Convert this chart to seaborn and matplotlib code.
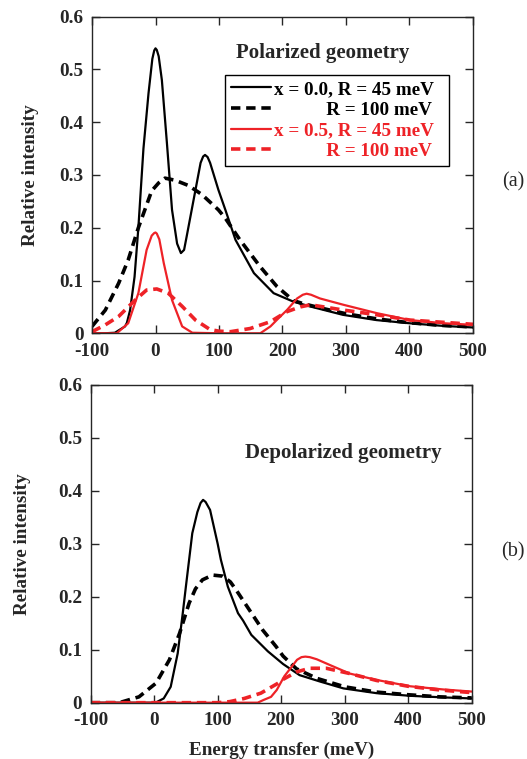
import matplotlib
matplotlib.use("Agg")
import matplotlib.pyplot as plt
import seaborn as sns

# (a) polarized geometry
pol_45_E = [-100, -80, -64, -48, -45, -40, -33, -27, -19, -11, -5, -2, 0, 2, 5, 10, 18, 26, 34, 40, 45, 49, 60, 71, 75, 78, 82, 86, 99, 110, 126, 155, 186, 217, 243, 295, 348, 400, 453, 500]
pol_45_I = [0, 0, 0.001, 0.013, 0.02, 0.044, 0.107, 0.2, 0.35, 0.455, 0.52, 0.536, 0.54, 0.537, 0.525, 0.48, 0.36, 0.234, 0.17, 0.152, 0.158, 0.183, 0.253, 0.323, 0.335, 0.338, 0.334, 0.323, 0.272, 0.234, 0.177, 0.114, 0.076, 0.06, 0.051, 0.035, 0.025, 0.019, 0.014, 0.011]
pol_100_E = [-100, -79, -58, -43, -27, -15, -6, 5, 15, 31, 52, 73, 99, 110, 133, 165, 191, 217, 233, 260, 300, 350, 400, 450, 500]
pol_100_I = [0.013, 0.044, 0.095, 0.139, 0.2, 0.24, 0.27, 0.285, 0.294, 0.29, 0.28, 0.263, 0.234, 0.218, 0.177, 0.126, 0.089, 0.062, 0.056, 0.048, 0.037, 0.027, 0.02, 0.015, 0.012]
pol05_45_E = [-100, -61, -43, -27, -14, -6, -2, 0, 2, 6, 13, 26, 42, 58, 100, 165, 181, 195, 207, 223, 232, 238, 245, 259, 296, 349, 401, 454, 500]
pol05_45_I = [0, 0, 0.019, 0.076, 0.158, 0.185, 0.19, 0.191, 0.189, 0.178, 0.133, 0.063, 0.013, 0.001, 0, 0, 0.013, 0.03, 0.044, 0.066, 0.073, 0.075, 0.073, 0.066, 0.054, 0.038, 0.025, 0.019, 0.016]
pol05_100_E = [-100, -79, -58, -32, -14, 2, 20, 42, 63, 86, 100, 118, 149, 181, 207, 228, 244, 296, 349, 401, 500]
pol05_100_I = [0.003, 0.016, 0.032, 0.063, 0.082, 0.084, 0.076, 0.051, 0.025, 0.007, 0.004, 0.003, 0.009, 0.022, 0.041, 0.05, 0.054, 0.044, 0.035, 0.025, 0.017]

# (b) depolarized geometry
dep_45_E = [-100, 2, 15, 26, 37, 45, 50, 55, 60, 68, 73, 77, 81, 88, 100, 105, 116, 132, 140, 153, 179, 203, 229, 261, 298, 350, 403, 455, 500]
dep_45_I = [0, 0, 0.008, 0.03, 0.093, 0.169, 0.22, 0.27, 0.32, 0.36, 0.377, 0.383, 0.379, 0.364, 0.30, 0.27, 0.219, 0.169, 0.155, 0.128, 0.097, 0.073, 0.052, 0.04, 0.027, 0.018, 0.013, 0.01, 0.008]
dep_100_E = [-100, -55, -24, 3, 24, 40, 55, 65, 76, 92, 108, 120, 129, 150, 171, 192, 203, 224, 256, 300, 350, 400, 450, 500]
dep_100_I = [0, 0, 0.011, 0.037, 0.081, 0.131, 0.188, 0.215, 0.232, 0.241, 0.239, 0.228, 0.213, 0.175, 0.137, 0.106, 0.088, 0.064, 0.046, 0.03, 0.02, 0.015, 0.011, 0.009]
dep05_45_E = [-100, 163, 172, 184, 193, 205, 225, 232, 238, 245, 256, 277, 308, 350, 403, 455, 500]
dep05_45_I = [0, 0, 0.005, 0.011, 0.024, 0.05, 0.081, 0.086, 0.087, 0.086, 0.082, 0.071, 0.055, 0.043, 0.031, 0.025, 0.021]
dep05_100_E = [-100, 100, 119, 142, 168, 194, 203, 224, 245, 271, 308, 350, 400, 450, 500]
dep05_100_I = [0, 0, 0.002, 0.008, 0.018, 0.036, 0.044, 0.058, 0.065, 0.065, 0.055, 0.042, 0.031, 0.024, 0.019]

labels = ["x = 0.0, R = 45 meV  ", "           R = 100 meV  ",
          "x = 0.5, R = 45 meV  ", "           R = 100 meV  "]
x_ticks = [-100, 0, 100, 200, 300, 400, 500]
y_ticks = [0, 0.1, 0.2, 0.3, 0.4, 0.5, 0.6]
y_ticklabels = ["0", "0.1", "0.2", "0.3", "0.4", "0.5", "0.6"]

sns.set_style("ticks")
plt.rcParams["font.family"] = ["Liberation Serif", "DejaVu Serif"]
plt.rcParams["font.weight"] = "bold"
plt.rcParams["axes.unicode_minus"] = False

RED = "#ee2227"
dash = (0, (2.6, 1.6))

fig = plt.figure(figsize=(5.27, 7.59), dpi=100)
ax1 = fig.add_axes([0.1746, 0.5609, 0.7229, 0.4171])
ax2 = fig.add_axes([0.1721, 0.0742, 0.7229, 0.4186])

def draw(ax, s45, s100, r45, r100):
    sns.lineplot(x=s45[0], y=s45[1], ax=ax, color="black", lw=1.6, sort=False, label=labels[0])
    sns.lineplot(x=s100[0], y=s100[1], ax=ax, color="black", lw=2.6, ls=dash, sort=False, label=labels[1])
    sns.lineplot(x=r45[0], y=r45[1], ax=ax, color=RED, lw=1.6, sort=False, label=labels[2])
    sns.lineplot(x=r100[0], y=r100[1], ax=ax, color=RED, lw=2.6, ls=dash, sort=False, label=labels[3])
    ax.set_xlim(-100, 500)
    ax.set_ylim(0, 0.6)
    ax.set_xticks(x_ticks)
    ax.set_yticks(y_ticks)
    ax.set_yticklabels(y_ticklabels)
    ax.tick_params(direction="in", top=True, right=True, length=6, width=1,
                   labelsize=13.8, pad=6)
    ax.tick_params(axis="x", pad=7)
    for lab in ax.get_xticklabels() + ax.get_yticklabels():
        lab.set_fontweight("bold")
    for sp in ax.spines.values():
        sp.set_linewidth(1)
        sp.set_visible(True)
    ax.set_ylabel("Relative intensity", fontsize=13.8, fontweight="bold")

draw(ax1, (pol_45_E, pol_45_I), (pol_100_E, pol_100_I),
     (pol05_45_E, pol05_45_I), (pol05_100_E, pol05_100_I))
draw(ax2, (dep_45_E, dep_45_I), (dep_100_E, dep_100_I),
     (dep05_45_E, dep05_45_I), (dep05_100_E, dep05_100_I))

ax1.set_xlabel("")
ax2.set_xlabel("Energy transfer (meV)", fontsize=13.8, fontweight="bold")
ax1.yaxis.set_label_coords(-0.139, 0.5)
ax2.yaxis.set_label_coords(-0.157, 0.5)
ax2.xaxis.set_label_coords(0.5, -0.124)

leg = ax1.legend(loc="upper right", bbox_to_anchor=(0.937, 0.816), borderaxespad=0,
                 fancybox=False, framealpha=1, edgecolor="black",
                 handlelength=2.1, handletextpad=0.15, labelspacing=0.17,
                 borderpad=0.3, prop={"weight": "bold", "size": 13.8})
leg.get_frame().set_linewidth(1)
for t, c in zip(leg.get_texts(), ["black", "black", RED, RED]):
    t.set_color(c)
ax2.get_legend().remove()

ax1.text(0.606, 0.885, "Polarized geometry", transform=ax1.transAxes, ha="center",
         va="center", fontsize=15, fontweight="bold")
ax2.text(0.662, 0.787, "Depolarized geometry", transform=ax2.transAxes, ha="center",
         va="center", fontsize=15, fontweight="bold")
fig.text(0.973, 0.760, "(a)", ha="center", va="center", fontsize=14.5, fontweight="normal")
fig.text(0.973, 0.273, "(b)", ha="center", va="center", fontsize=14.5, fontweight="normal")

plt.savefig("out.png", dpi=100)
